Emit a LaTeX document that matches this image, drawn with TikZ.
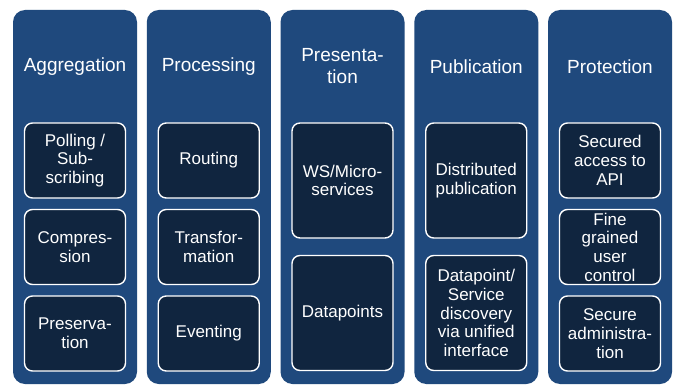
\documentclass[tikz,border=0pt]{standalone}
\usepackage{fontspec}
\setmainfont{Liberation Sans}
\definecolor{colblue}{RGB}{31,73,125}
\definecolor{boxnavy}{RGB}{16,37,63}
\begin{document}
\begin{tikzpicture}[x=1pt,y=-1pt,
  col/.style={fill=colblue, rounded corners=12pt, minimum width=124pt, minimum height=374pt, inner sep=0pt, draw=none},
  title/.style={text=white, align=center, font=\fontsize{19}{22}\selectfont, inner sep=0pt},
  item/.style={fill=boxnavy, draw=white, line width=1.4pt, rounded corners=8pt, minimum width=101pt, text=white, align=center, inner sep=0pt, font=\fontsize{17}{18.7}\selectfont},
  short/.style={item, minimum height=75pt},
  tall/.style={item, minimum height=115pt}]
\useasboundingbox (0,0) rectangle (677,385);
\fill[white] (0,0) rectangle (677,385);
% columns
\node[col] (c1) at (75,197) {};
\node[col] (c2) at (208.75,197) {};
\node[col] (c3) at (342.5,197) {};
\node[col] (c4) at (476.25,197) {};
\node[col] (c5) at (610,197) {};
% titles
\node[title] (t1) at (75,66.5) {Aggregation};
\node[title] (t2) at (208.75,66.5) {Processing};
\node[title] (t3) at (342.5,66.5) {Presenta-\\tion};
\node[title] (t4) at (476.25,66.5) {Publication};
\node[title] (t5) at (610,66.5) {Protection};
% column 1
\node[short] (a1) at (75,160.5) {Polling /\\Sub-\\scribing};
\node[short] (a2) at (75,247) {Compres-\\sion};
\node[short] (a3) at (75,333.5) {Preserva-\\tion};
% column 2
\node[short] (p1) at (208.75,160.5) {\raisebox{-1.5pt}{Routing}};
\node[short] (p2) at (208.75,247) {Transfor-\\mation};
\node[short] (p3) at (208.75,333.5) {\raisebox{-1.5pt}{Eventing}};
% column 3
\node[tall] (r1) at (342.5,180.5) {WS/Micro-\\services};
\node[tall] (r2) at (342.5,313) {\raisebox{-1pt}{Datapoints}};
% column 4
\node[tall] (u1) at (476.25,180.5) {Distributed\\publication};
\node[tall] (u2) at (476.25,313) {Datapoint/\\Service\\discovery\\via unified\\interface};
% column 5
\node[short] (s1) at (610,160.5) {Secured\\access to\\API};
\node[short] (s2) at (610,247) {Fine\\grained\\user\\control};
\node[short] (s3) at (610,333.5) {Secure\\administra-\\tion};
\end{tikzpicture}
\end{document}
